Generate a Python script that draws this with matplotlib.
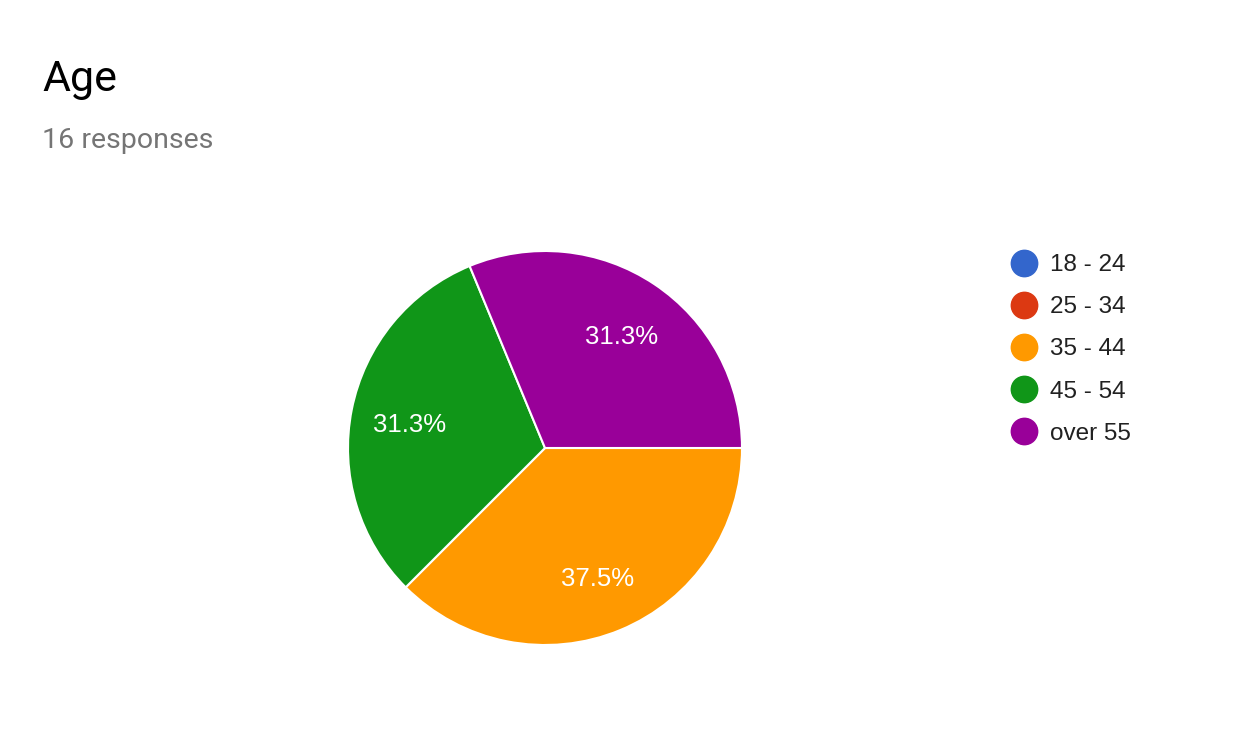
import matplotlib
matplotlib.use("Agg")
import math
import matplotlib.pyplot as plt
import matplotlib.transforms as mtransforms
from matplotlib.lines import Line2D

title = "Age"
subtitle = "16 responses"
categories = ["18 - 24", "25 - 34", "35 - 44", "45 - 54", "over 55"]
counts = [0, 0, 6, 5, 5]
colors = ["#3366CC", "#DC3912", "#FF9900", "#109618", "#990099"]

W, H, DPI = 1260, 738, 100
fig = plt.figure(figsize=(W / DPI, H / DPI), dpi=DPI)
fig.patch.set_facecolor("white")

SANS = ["Liberation Sans", "Arial", "DejaVu Sans"]


def pct_fmt(p):
    v = math.floor(float(p) * 10 + 0.5 + 1e-9) / 10
    return f"{v:.1f}%"


# pie axes: center (545,448) radius 197 px
cx, cy, r = 545, 448, 197
ax = fig.add_axes([(cx - r) / W, (H - cy - r) / H, 2 * r / W, 2 * r / H])
nz = [(c, v, col) for c, v, col in zip(categories, counts, colors) if v > 0]
vals = [v for _, v, _ in nz]
cols = [col for _, _, col in nz]
wedges, texts, autotexts = ax.pie(
    vals, colors=cols, startangle=0, counterclock=False,
    autopct=pct_fmt, pctdistance=0.70,
    wedgeprops=dict(edgecolor="white", linewidth=1.5),
    textprops=dict(color="white", fontsize=18.5, family=SANS),
)
shift = mtransforms.ScaledTranslation(0, -4 / DPI, fig.dpi_scale_trans)
for t in autotexts:
    t.set_transform(t.get_transform() + shift)
ax.set_xlim(-1.0, 1.0)
ax.set_ylim(-1.0, 1.0)
ax.set_aspect("equal")
ax.axis("off")

fig.text(42 / W, 1 - 80 / H, title, fontsize=31, family="Roboto",
         color="black", va="center", ha="left")
fig.text(42 / W, 1 - 140 / H, subtitle, fontsize=20.5, family="Roboto",
         color="#757575", va="center", ha="left")

handles = [Line2D([], [], marker="o", linestyle="", markersize=19,
                  markerfacecolor=c, markeredgecolor=c) for c in colors]
fig.legend(handles, categories, loc="upper left",
           bbox_to_anchor=(1009 / W, 1 - 254 / H), frameon=False,
           prop=dict(family=SANS, size=17.5),
           labelspacing=0.83, handletextpad=0.5, handlelength=1.2,
           borderaxespad=0, borderpad=0, labelcolor="#212121")

fig.savefig("out.png", dpi=DPI, facecolor="white")
